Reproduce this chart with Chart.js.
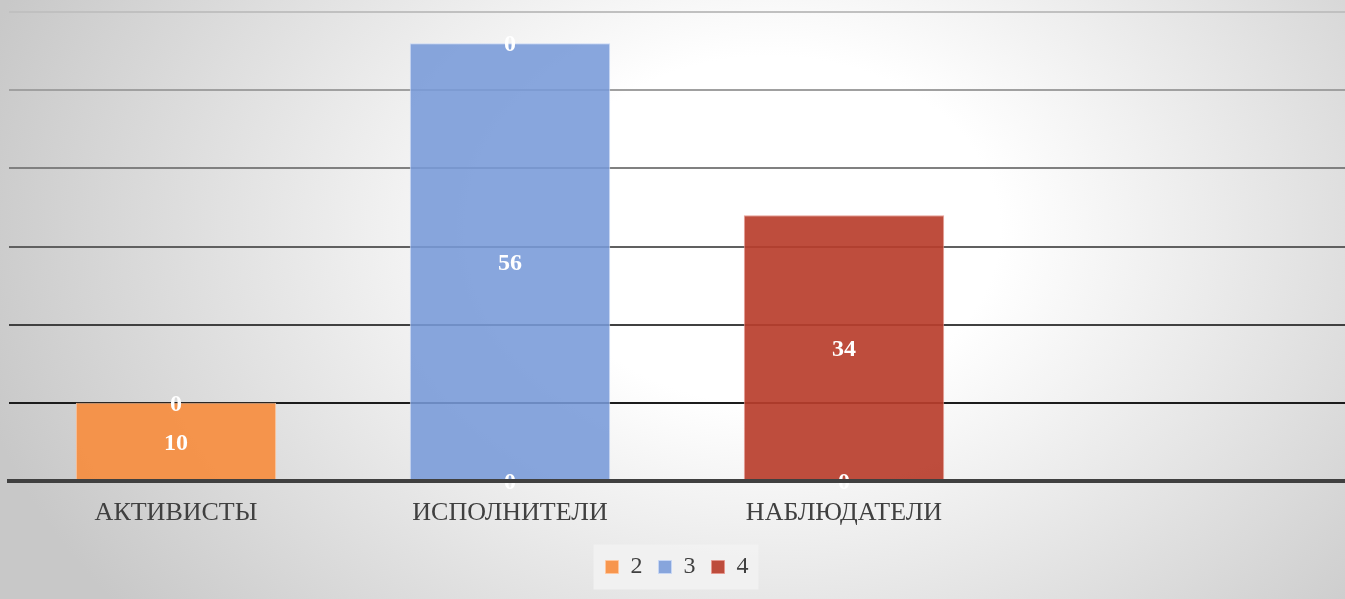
<!DOCTYPE html>
<html>
<head>
<meta charset="utf-8">
<script src="https://cdn.jsdelivr.net/npm/chart.js@4/dist/chart.umd.min.js"></script>
<style>
html,body{margin:0;padding:0;width:1345px;height:599px;overflow:hidden;}
body{background:radial-gradient(ellipse 820px 620px at 770px 230px,#ffffff 28%,#c8c8c8 100%);}
#wrap{position:relative;width:1345px;height:599px;}
</style>
</head>
<body>
<div id="wrap"><canvas id="c" width="1345" height="599"></canvas></div>
<script>
const categories = ['АКТИВИСТЫ', 'ИСПОЛНИТЕЛИ', 'НАБЛЮДАТЕЛИ', ''];
const seriesNames = ['2', '3', '4'];
const series2 = [10, 0, 0, null];
const series3 = [0, 56, null, null];
const series4 = [null, 0, 34, null];
const yTicks = [0, 10, 20, 30, 40, 50, 60];

const gridColors = {10:'#1c1c1c',20:'#404040',30:'#606060',40:'#808080',50:'#a0a0a0',60:'#c0c0c0'};
const serif = "'Liberation Serif', 'DejaVu Serif', serif";

const labelPlugin = {
  id: 'barLabels',
  afterDatasetsDraw(chart) {
    const ctx = chart.ctx;
    ctx.save();
    ctx.fillStyle = '#ffffff';
    ctx.font = 'bold 24px ' + serif;
    ctx.textAlign = 'center';
    ctx.textBaseline = 'middle';
    chart.data.datasets.forEach((ds, di) => {
      const meta = chart.getDatasetMeta(di);
      meta.data.forEach((el, i) => {
        const v = ds.data[i];
        if (v === null || v === undefined) return;
        const p = el.getProps(['x', 'y', 'base'], true);
        ctx.fillText(String(v), p.x, (p.y + p.base) / 2 + 2);
      });
    });
    ctx.restore();
  }
};

const legendBg = {
  id: 'legendBg',
  beforeDraw(chart) {
    const lg = chart.legend;
    if (!lg || !lg.legendHitBoxes || !lg.legendHitBoxes.length) return;
    const hb = lg.legendHitBoxes;
    const first = hb[0], last = hb[hb.length - 1];
    const cy = first.top + first.height / 2;
    const ctx = chart.ctx;
    ctx.save();
    ctx.fillStyle = 'rgba(242,242,242,0.9)';
    ctx.fillRect(first.left - 12, cy - 22.5, (last.left + last.width + 10) - (first.left - 12), 45);
    ctx.restore();
  }
};

new Chart(document.getElementById('c'), {
  type: 'bar',
  data: {
    labels: categories,
    datasets: [
      {label: seriesNames[0], data: series2, backgroundColor: 'rgba(247,140,60,0.9)', borderColor: 'rgba(255,200,160,0.9)', borderWidth: 1},
      {label: seriesNames[1], data: series3, backgroundColor: 'rgba(120,154,216,0.88)', borderColor: 'rgba(200,215,245,0.9)', borderWidth: 1},
      {label: seriesNames[2], data: series4, backgroundColor: 'rgba(185,62,44,0.92)', borderColor: 'rgba(230,150,140,0.9)', borderWidth: 1}
    ]
  },
  options: {
    responsive: false,
    animation: false,
    layout: {padding: {left: 9, top: 12, right: 0, bottom: 10}},
    datasets: {bar: {barPercentage: 0.6, categoryPercentage: 1.0}},
    scales: {
      x: {
        stacked: true,
        grid: {display: false, drawTicks: false},
        border: {display: true, color: '#404040', width: 4, z: 1},
        ticks: {color: '#404040', font: {family: serif, size: 26}, padding: 17},
        afterFit(scale) { scale.height = 58; }
      },
      y: {
        stacked: true,
        min: yTicks[0],
        max: yTicks[yTicks.length - 1],
        afterBuildTicks(scale) { scale.ticks = yTicks.map(v => ({value: v})); },
        ticks: {display: false},
        border: {display: false},
        grid: {
          drawTicks: false,
          lineWidth: 2,
          color: (c) => (c.tick && gridColors[c.tick.value]) || 'rgba(0,0,0,0)'
        }
      }
    },
    plugins: {
      legend: {
        position: 'bottom',
        labels: {
          color: '#404040',
          font: {family: serif, size: 24},
          boxWidth: 13,
          boxHeight: 13,
          padding: 16
        }
      },
      tooltip: {enabled: false}
    }
  },
  plugins: [labelPlugin, legendBg]
});
</script>
</body>
</html>
